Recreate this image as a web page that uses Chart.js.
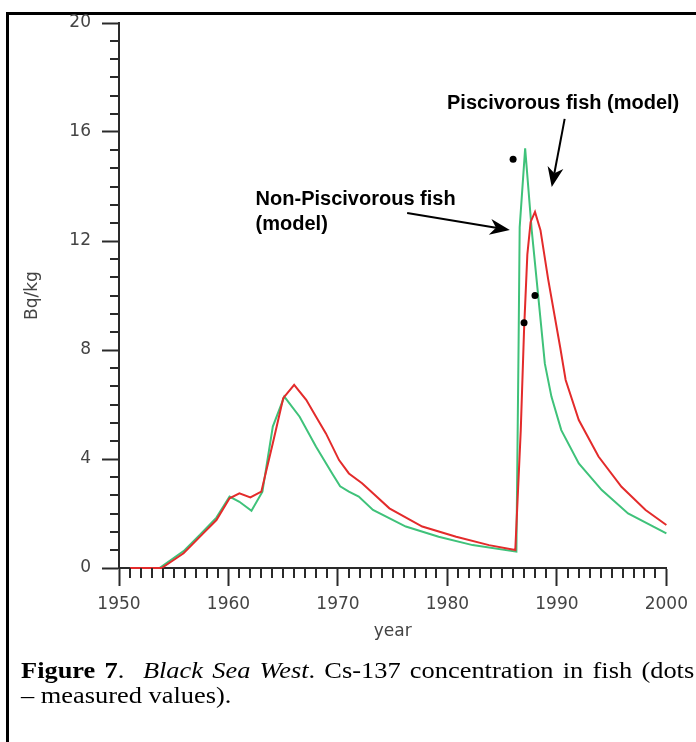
<!DOCTYPE html>
<html>
<head>
<meta charset="utf-8">
<script src="https://cdn.jsdelivr.net/npm/chart.js@4/dist/chart.umd.min.js"></script>
<style>
  body { margin: 0; background: #fff; }
  #wrap { position: relative; width: 696px; height: 742px; overflow: hidden; }
  #frame { position: absolute; left: 6px; top: 12px; width: 720px; height: 760px;
           border-top: 3px solid #000; border-left: 3px solid #000; }
  canvas { position: absolute; left: 0; top: 0; }
  .cap { position: absolute; left: 21px; font-family: "Liberation Serif", "Times New Roman", serif;
         font-size: 24px; line-height: 25px; color: #000; transform: scaleX(1.1); transform-origin: 0 0; }
  #cap1 { top: 658px; width: 612px; text-align: justify; text-align-last: justify; }
  #cap2 { top: 683px; white-space: nowrap; }
</style>
</head>
<body>
<div id="wrap">
  <div id="frame"></div>
  <canvas id="fishChart" width="696" height="742"></canvas>
  <div class="cap" id="cap1"><b>Figure 7</b>.&nbsp; <i>Black Sea West</i>. Cs-137 concentration in fish (dots</div>
  <div class="cap" id="cap2">– measured values).</div>
</div>
<script>
// non-piscivorous fish (model), green
const greenYears = [1951, 1953.7, 1955.9, 1957.4, 1958.9, 1960.1, 1961.0, 1962.1, 1963.1, 1964.05,
  1965.1, 1966.5, 1968.0, 1969.5, 1970.2, 1971.0, 1971.9, 1973.2, 1976.2, 1979.2,
  1982.3, 1986.3, 1986.5, 1986.6, 1987.1, 1987.7, 1988.3, 1988.9, 1989.5, 1990.4,
  1992.0, 1994.1, 1996.5, 2000.0];
const greenValues = [0, 0, 0.62, 1.22, 1.85, 2.62, 2.43, 2.1, 2.8, 5.19,
  6.29, 5.55, 4.45, 3.45, 3.0, 2.8, 2.62, 2.13, 1.52, 1.15,
  0.84, 0.6, 8.2, 12.5, 15.4, 12.4, 9.96, 7.5, 6.29, 5.06,
  3.84, 2.86, 2.0, 1.27];

// piscivorous fish (model), red
const redYears = [1951, 1953.9, 1955.9, 1957.4, 1958.9, 1960.1, 1961.0, 1962.0, 1963.0, 1964.05,
  1965.0, 1966.0, 1967.1, 1968.0, 1968.9, 1970.1, 1971.0, 1972.2, 1973.2, 1974.7,
  1977.7, 1980.8, 1983.8, 1986.2, 1986.7, 1987.0, 1987.3, 1987.6, 1988.0, 1988.5,
  1989.2, 1990.3, 1990.8, 1992.0, 1993.8, 1995.9, 1998.1, 2000.0];
const redValues = [0, 0, 0.54, 1.15, 1.76, 2.56, 2.74, 2.59, 2.8, 4.58,
  6.23, 6.72, 6.17, 5.55, 4.94, 3.96, 3.47, 3.11, 2.74, 2.19,
  1.52, 1.15, 0.84, 0.66, 5.06, 8.73, 11.5, 12.7, 13.07, 12.4,
  10.6, 8.1, 6.9, 5.43, 4.09, 2.98, 2.13, 1.58];

// measured values (dots)
const measuredYears = [1986, 1987, 1988];
const measuredValues = [15, 9, 10];

const xTickLabels = [1950, 1960, 1970, 1980, 1990, 2000];
const yTickLabels = [0, 4, 8, 12, 16, 20];

// annotation text and arrows, in data units (year, Bq/kg)
const labelTexts = [
  { lines: ["Piscivorous fish (model)"], year: 1979.96, value: 16.84 },
  { lines: ["Non-Piscivorous fish", "(model)"], year: 1962.48, value: 13.32 }
];
const arrowLines = [
  { from: [1990.71, 16.48], to: [1989.53, 13.98] },
  { from: [1976.32, 13.03], to: [1985.70, 12.40] }
];

const axisColor = "#2a2a2a";
const labelColor = "#444";
const tickFont = { family: "'DejaVu Sans', sans-serif", size: 17 };

const toPoints = (xs, ys) => xs.map((x, i) => ({ x: x, y: ys[i] }));

const extras = {
  id: "extras",
  afterDraw(chart) {
    const { ctx, chartArea, scales: { x, y } } = chart;
    ctx.save();
    // minor ticks
    ctx.strokeStyle = axisColor;
    ctx.lineWidth = 2;
    ctx.beginPath();
    for (let yr = 1951; yr < 2000; yr++) {
      if (yr % 10 === 0) continue;
      const px = Math.round(x.getPixelForValue(yr));
      ctx.moveTo(px, chartArea.bottom);
      ctx.lineTo(px, chartArea.bottom + 10);
    }
    for (let i = 1; i < 30; i++) {
      if (i % 6 === 0) continue;
      const py = Math.round(y.getPixelForValue(i * 2 / 3));
      ctx.moveTo(chartArea.left - 9, py);
      ctx.lineTo(chartArea.left, py);
    }
    ctx.stroke();

    // labels
    ctx.fillStyle = "#000";
    ctx.font = "bold 20px 'Liberation Sans', Arial, sans-serif";
    ctx.textBaseline = "alphabetic";
    ctx.textAlign = "left";
    labelTexts.forEach(t => {
      const px = x.getPixelForValue(t.year);
      const py = y.getPixelForValue(t.value);
      t.lines.forEach((ln, k) => ctx.fillText(ln, px, py + k * 25));
    });

    // arrows
    arrowLines.forEach(a => {
      const x0 = x.getPixelForValue(a.from[0]), y0 = y.getPixelForValue(a.from[1]);
      const x1 = x.getPixelForValue(a.to[0]), y1 = y.getPixelForValue(a.to[1]);
      const ang = Math.atan2(y1 - y0, x1 - x0);
      const len = 20, half = 8;
      const bx = x1 - len * Math.cos(ang), by = y1 - len * Math.sin(ang);
      const nx = x1 - len * 0.7 * Math.cos(ang), ny = y1 - len * 0.7 * Math.sin(ang);
      ctx.strokeStyle = "#000";
      ctx.lineWidth = 2;
      ctx.beginPath();
      ctx.moveTo(x0, y0);
      ctx.lineTo(nx, ny);
      ctx.stroke();
      ctx.beginPath();
      ctx.moveTo(x1, y1);
      ctx.lineTo(bx - half * Math.sin(ang), by + half * Math.cos(ang));
      ctx.lineTo(nx, ny);
      ctx.lineTo(bx + half * Math.sin(ang), by - half * Math.cos(ang));
      ctx.closePath();
      ctx.fill();
    });
    ctx.restore();
  }
};

new Chart(document.getElementById("fishChart"), {
  type: "line",
  data: {
    datasets: [
      {
        label: "Measured",
        type: "scatter",
        data: toPoints(measuredYears, measuredValues),
        pointRadius: 3.5,
        pointBackgroundColor: "#000",
        pointBorderWidth: 0,
        clip: false,
        order: 0
      },
      {
        label: "Piscivorous fish (model)",
        data: toPoints(redYears, redValues),
        borderColor: "#e32b2b",
        borderWidth: 2,
        pointRadius: 0,
        tension: 0,
        clip: false,
        order: 1
      },
      {
        label: "Non-Piscivorous fish (model)",
        data: toPoints(greenYears, greenValues),
        borderColor: "#3fc27a",
        borderWidth: 2,
        pointRadius: 0,
        tension: 0,
        clip: false,
        order: 2
      }
    ]
  },
  options: {
    responsive: false,
    animation: false,
    layout: { padding: { left: 18, top: 23, right: 28, bottom: 99 } },
    plugins: { legend: { display: false }, tooltip: { enabled: false } },
    scales: {
      x: {
        type: "linear",
        min: 1950,
        max: 2000,
        afterBuildTicks: s => { s.ticks = xTickLabels.map(v => ({ value: v })); },
        afterFit: s => { s.height = 75; },
        ticks: { font: tickFont, color: labelColor, padding: 8, maxRotation: 0,
                 callback: v => String(v) },
        grid: { drawOnChartArea: false, tickLength: 18, tickWidth: 2, tickColor: axisColor },
        border: { display: true, color: axisColor, width: 2 },
        title: { display: true, text: "year", font: tickFont, color: labelColor,
                 padding: { top: 0, bottom: 1 } }
      },
      y: {
        min: 0,
        max: 20,
        afterBuildTicks: s => { s.ticks = yTickLabels.map(v => ({ value: v })); },
        afterFit: s => { s.width = 101; },
        ticks: { font: tickFont, color: labelColor, padding: 11 },
        grid: { drawOnChartArea: false, tickLength: 17, tickWidth: 2, tickColor: axisColor },
        border: { display: true, color: axisColor, width: 2 },
        title: { display: true, text: "Bq/kg", font: tickFont, color: labelColor }
      }
    }
  },
  plugins: [extras]
});
</script>
</body>
</html>
